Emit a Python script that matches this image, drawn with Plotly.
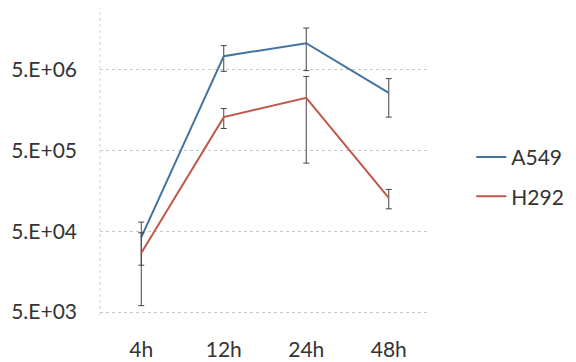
import math
import plotly.graph_objects as go

categories = ["4h", "12h", "24h", "48h"]
a549 = [4.2e4, 7.4e6, 1.07e7, 2.6e6]
a549_err = [2.3e4, 2.6e6, 5.8e6, 1.3e6]
h292 = [2.7e4, 1.3e6, 2.25e6, 1.3e5]
h292_err = [2.1e4, 3.6e5, 1.9e6, 3.5e4]
tick_vals = [5e3, 5e4, 5e5, 5e6]
tick_text = ["5.E+03", "5.E+04", "5.E+05", "5.E+06"]

font = "Lato, 'Open Sans', sans-serif"
fig = go.Figure()
fig.add_trace(go.Scatter(
    x=categories, y=a549, name="A549", mode="lines", legendgroup="a",
    line=dict(color="#44729f", width=2),
    error_y=dict(type="data", array=a549_err, color="#444444", thickness=1, width=3),
))
fig.add_trace(go.Scatter(
    x=categories, y=h292, name="H292", mode="lines", legendgroup="b",
    line=dict(color="#c0574a", width=2),
    error_y=dict(type="data", array=h292_err, color="#444444", thickness=1, width=3),
))

dec = 80.7
lo = math.log10(5e3) - 3 / dec
fig.update_layout(
    width=576, height=362,
    margin=dict(l=100, r=146, t=8, b=47, autoexpand=False),
    paper_bgcolor="white", plot_bgcolor="white",
    font=dict(family=font, size=21, color="#333333"),
    showlegend=True,
    legend=dict(x=1.125, xanchor="left", y=0.45, yanchor="middle",
                font=dict(size=21, color="#333333"), itemwidth=30,
                tracegroupgap=9, bgcolor="rgba(0,0,0,0)"),
    xaxis=dict(type="category", range=[-0.5, 3.5], showgrid=False,
               showline=False, zeroline=False, ticks="", automargin=False,
               ticklabelstandoff=20, tickfont=dict(size=21)),
    yaxis=dict(type="log", range=[lo, lo + 307 / dec],
               tickvals=tick_vals, ticktext=tick_text, automargin=False,
               showgrid=True, gridcolor="#c8c8c8", griddash="dot", gridwidth=1,
               showline=False, zeroline=False, ticks="",
               ticklabelstandoff=22, tickfont=dict(size=21)),
    shapes=[dict(type="line", xref="paper", yref="paper", x0=0, x1=0, y0=0, y1=1,
                 line=dict(color="#d0d0d0", width=1, dash="dot"))],
)
fig.write_html("out.html", config={"displayModeBar": False},
               post_script="document.body.style.margin='0';")
